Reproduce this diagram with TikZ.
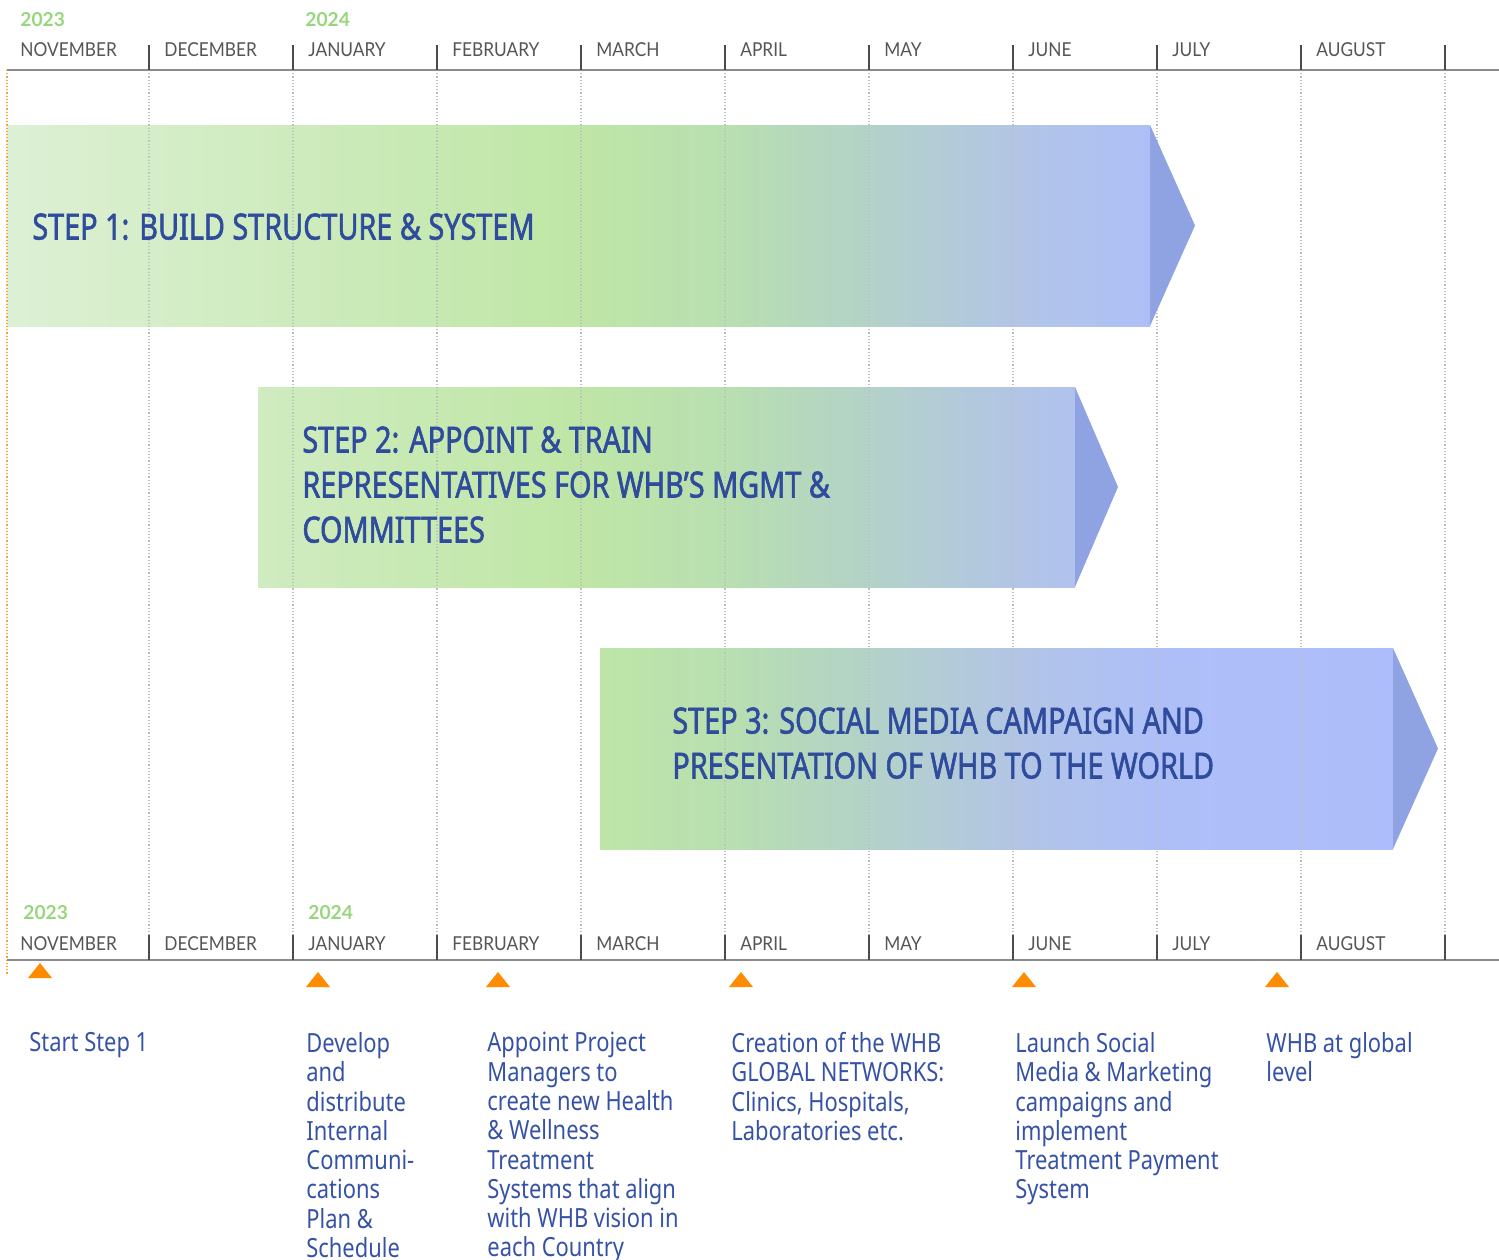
\documentclass[tikz,border=0pt]{standalone}
\usepackage{fontspec}
\setmainfont{Noto Sans}
\newfontfamily\monthfont[FakeStretch=0.9]{Lato}
\newfontfamily\yearfont{Lato}
\newfontfamily\notefont[FakeStretch=0.83]{Noto Sans}
\IfFontExistsTF{Noto Sans Bold}
	{\newfontfamily\stepfont[FakeStretch=0.76]{Noto Sans Bold}}
	{\IfFontExistsTF{NotoSans-Bold.ttf}
		{\newfontfamily\stepfont[FakeStretch=0.76]{NotoSans-Bold.ttf}}
		{\newfontfamily\stepfont[FakeStretch=0.8,FakeBold=1.6]{Noto Sans}}}
\definecolor{titleblue}{HTML}{2F4C9C}
\definecolor{textblue}{HTML}{3652A6}
\definecolor{monthgray}{HTML}{555555}
\definecolor{yeargreen}{HTML}{97D67C}
\definecolor{markorange}{HTML}{FF8C00}
\definecolor{tipblue}{HTML}{8FA3E3}
\definecolor{palegreen}{HTML}{DDF0D5}
\definecolor{midgreen}{HTML}{BFE6A6}
\definecolor{sagegreen}{HTML}{B8DFB0}
\definecolor{tealmix}{HTML}{B3D2C8}
\definecolor{bluegray}{HTML}{B2C5E5}
\definecolor{softblue}{HTML}{AEBFF8}
\definecolor{deepblue}{HTML}{ACBCFC}
% one gradient along the whole page width (25bp..75bp = left..right edge)
\pgfdeclarehorizontalshading{whbgrad}{100bp}{color(0bp)=(palegreen); color(25bp)=(palegreen); color(44.35bp)=(midgreen); color(49.2bp)=(sagegreen); color(54bp)=(tealmix); color(58.8bp)=(bluegray); color(63.55bp)=(softblue); color(75bp)=(deepblue); color(100bp)=(deepblue)}
\tikzset{
  month/.style={anchor=base west, inner sep=0pt, text=monthgray, font=\monthfont\fontsize{9.6}{11}\selectfont},
  year/.style={anchor=base west, inner sep=0pt, text=yeargreen, font=\yearfont\bfseries\fontsize{9.6}{11}\selectfont},
  steptitle/.style={anchor=north west, inner sep=0pt, align=left, text=titleblue, font=\stepfont\fontsize{18}{22.5}\selectfont},
  milestone/.style={anchor=north west, inner sep=0pt, align=left, text=textblue, font=\notefont\fontsize{13.2}{14.65}\selectfont},
  gridline/.style={gray!50, densely dotted, line width=0.6pt},
  axisline/.style={gray!90, line width=0.9pt},
  tick/.style={black!70, line width=0.7pt},
}

\begin{document}
\begin{tikzpicture}[x=0.5pt,y=-0.5pt]
	\useasboundingbox (0,0) rectangle (1499,1259);
	% step arrows: body, then tip
	\foreach \xa/\xb/\ya/\yb in {7/1150/125/326, 258/1075/387/587, 600/1393/648/849}{
		\begin{scope}
			\clip (\xa,\ya) rectangle (\xb,\yb);
			\shade[shading=whbgrad] (0,\ya) rectangle (1499,\yb);
		\end{scope}
	}
	% month grid
	\foreach \i in {1,...,10}{
		\draw[gridline] (5+144*\i,70) -- (5+144*\i,935);
	}
	\foreach \xb/\ya/\yb/\tx in {1150/125/326/1195, 1075/387/587/1118, 1393/648/849/1438}{
		\fill[tipblue] (\xb,\ya) -- (\tx,{(\ya+\yb)/2}) -- (\xb,\yb) -- cycle;
	}
	\draw[markorange!80, densely dotted, line width=0.6pt] (7,70) -- (7,975);
	% axes, top and bottom
	\foreach \ay/\my/\yy/\yx in {70/56/26/20,960/950/919/23}{
		\draw[axisline] (7,\ay) -- (1499,\ay);
		\foreach \i in {1,...,10}{
			\draw[tick] (5+144*\i,\ay-25) -- (5+144*\i,\ay);
		}
		\foreach \m [count=\i from 0] in {NOVEMBER,DECEMBER,JANUARY,FEBRUARY,MARCH,APRIL,MAY,JUNE,JULY,AUGUST}{
			\node[month] (m\ay-\i) at (20+144*\i,\my) {\m};
		}
		\node[year] (y\ay-a) at (\yx,\yy) {2023};
		\node[year] (y\ay-b) at (\yx+285,\yy) {2024};
	}
	% step titles
	\node[steptitle] (step1) at (32,213) {STEP 1: BUILD STRUCTURE \& SYSTEM};
	\node[steptitle] (step2) at (302,426) {STEP 2: APPOINT \& TRAIN\\REPRESENTATIVES FOR WHB’S MGMT \&\\COMMITTEES};
	\node[steptitle] (step3) at (672,707) {STEP 3: SOCIAL MEDIA CAMPAIGN AND\\PRESENTATION OF WHB TO THE WORLD};
	% milestones
	\fill[markorange] (28,978) -- (40,963) -- (52,978) -- cycle;
	\foreach \x in {318,498,741,1024,1277}{
		\fill[markorange] (\x-12,987) -- (\x,972) -- (\x+12,987) -- cycle;
	}
	\node[milestone] (ms1) at (29,1032) {Start Step 1};
	\node[milestone] (ms2) at (306,1032) {Develop\\and\\distribute\\Internal\\Communi-\\cations\\Plan \&\\Schedule};
	\node[milestone] (ms3) at (487,1032) {Appoint Project\\Managers to\\create new Health\\\& Wellness\\Treatment\\Systems that align\\with WHB vision in\\each Country};
	\node[milestone] (ms4) at (731,1032) {Creation of the WHB\\GLOBAL NETWORKS:\\Clinics, Hospitals,\\Laboratories etc.};
	\node[milestone] (ms5) at (1015,1032) {Launch Social\\Media \& Marketing\\campaigns and\\implement\\Treatment Payment\\System};
	\node[milestone] (ms6) at (1266,1032) {WHB at global\\level};
\end{tikzpicture}
\end{document}
